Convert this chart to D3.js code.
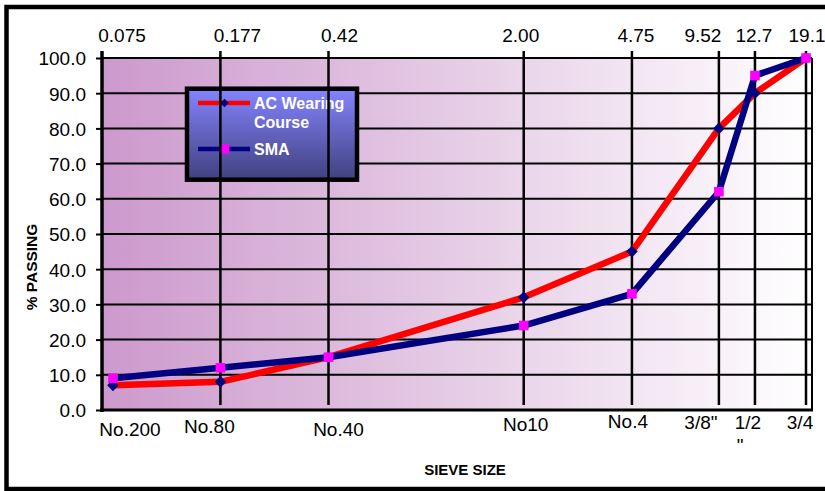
<!DOCTYPE html>
<html>
<head>
<meta charset="utf-8">
<script src="https://cdn.jsdelivr.net/npm/d3@7"></script>
<style>
  html, body { margin: 0; padding: 0; background: #fff; }
  svg { display: block; font-family: "Liberation Sans", Arial, sans-serif; }
</style>
</head>
<body>
<svg id="chart" width="825" height="491"></svg>
<script>
// Sieve openings (mm), their labels and the sieve designations
const sieveSizes = [0.075, 0.177, 0.42, 2.00, 4.75, 9.52, 12.7, 19.1];
const sizeLabels = ["0.075", "0.177", "0.42", "2.00", "4.75", "9.52", "12.7", "19.1"];
const sieveNames = ["No.200", "No.80", "No.40", "No10", "No.4", "3/8\"", "1/2\n\"", "3/4"];

// Percent passing for each gradation
const acWearing = [7, 8, 15, 32, 45, 80, 90, 100];
const sma = [9, 12, 15, 24, 33, 62, 95, 100];

const yTicks = d3.range(0, 101, 10);
const seriesNames = ["AC Wearing\nCourse", "SMA"];

// Hand-placed label offsets (px) relative to each sieve position
const topLabelShift = [9, 17, 11, -3, 4, -16, -1, 1];
const bottomLabelShift = [17, -11, 10, 2, -4, -18, -7, -6];
const bottomLabelDrop = [26, 23, 26, 21, 18, 19, 19, 19];

const svg = d3.select("#chart");
const W = 825, H = 491;
const plot = { left: 102, right: 812, top: 58, bottom: 410 };

const x = d3.scaleLog().domain([0.075, 19.1]).range([113, 806]);
const y = d3.scaleLinear().domain([0, 100]).range([plot.bottom, plot.top]);

const defs = svg.append("defs");
const bg = defs.append("linearGradient").attr("id", "plotBg")
  .attr("x1", "0%").attr("x2", "100%").attr("y1", "0%").attr("y2", "0%");
bg.append("stop").attr("offset", "0%").attr("stop-color", "#CC99CC");
bg.append("stop").attr("offset", "100%").attr("stop-color", "#FFFFFF");
const lg = defs.append("linearGradient").attr("id", "legendBg")
  .attr("x1", "0%").attr("x2", "0%").attr("y1", "0%").attr("y2", "100%");
lg.append("stop").attr("offset", "0%").attr("stop-color", "#8484FF");
lg.append("stop").attr("offset", "100%").attr("stop-color", "#41417F");

// Outer frame
svg.append("rect").attr("x", 6.5).attr("y", 7).attr("width", 850).attr("height", 482)
  .attr("fill", "#fff").attr("stroke", "#000").attr("stroke-width", 4.5);

// Plot area
svg.append("rect").attr("x", plot.left).attr("y", plot.top)
  .attr("width", plot.right - plot.left).attr("height", plot.bottom - plot.top)
  .attr("fill", "url(#plotBg)");

// Horizontal gridlines
svg.append("g").selectAll("line").data(yTicks.filter(d => d > 0)).join("line")
  .attr("x1", plot.left).attr("x2", plot.right)
  .attr("y1", d => y(d)).attr("y2", d => y(d))
  .attr("stroke", "#000").attr("stroke-width", 2);

// Right border and x axis line
svg.append("line").attr("x1", plot.right).attr("x2", plot.right)
  .attr("y1", plot.top).attr("y2", plot.bottom + 1)
  .attr("stroke", "#000").attr("stroke-width", 2);
svg.append("line").attr("x1", plot.left - 2).attr("x2", plot.right + 1)
  .attr("y1", plot.bottom).attr("y2", plot.bottom)
  .attr("stroke", "#000").attr("stroke-width", 3);

// Y axis labels and ticks
const yAxis = d3.axisLeft(y).tickValues(yTicks).tickFormat(d3.format(".1f"))
  .tickSize(6).tickPadding(10);
const yg = svg.append("g").attr("transform", `translate(${plot.left},0)`).call(yAxis);
yg.select(".domain").remove();
yg.selectAll(".tick line").attr("stroke", "#000").attr("stroke-width", 2);
yg.selectAll(".tick text").attr("font-size", 19).attr("fill", "#000")
  .attr("font-family", "Liberation Sans, Arial, sans-serif").attr("dy", "0.36em");

svg.append("text").attr("transform", "translate(37,267) rotate(-90)")
  .attr("text-anchor", "middle").attr("font-size", 15.5).attr("font-weight", "bold")
  .attr("fill", "#000").text("% PASSING");

// Legend
const leg = svg.append("g");
leg.append("rect").attr("x", 187).attr("y", 88.7).attr("width", 170).attr("height", 91)
  .attr("fill", "url(#legendBg)").attr("stroke", "#000").attr("stroke-width", 4.5);
leg.append("line").attr("x1", 198).attr("x2", 250).attr("y1", 103).attr("y2", 103)
  .attr("stroke", "#FF0000").attr("stroke-width", 4.5);
leg.append("path").attr("d", "M0,-4.2L4.2,0L0,4.2L-4.2,0Z")
  .attr("transform", "translate(224.5,103)").attr("fill", "#000080");
leg.append("line").attr("x1", 198).attr("x2", 250).attr("y1", 149).attr("y2", 149)
  .attr("stroke", "#000080").attr("stroke-width", 4.5);
leg.append("rect").attr("x", 220).attr("y", 144.3).attr("width", 9.3).attr("height", 9.3)
  .attr("fill", "#FF00FF");
const legText = leg.append("g").attr("fill", "#fff").attr("font-weight", "bold").attr("font-size", 16);
seriesNames[0].split("\n").forEach((t, i) => {
  legText.append("text").attr("x", 254).attr("y", 109 + i * 18.5).text(t);
});
legText.append("text").attr("x", 254).attr("y", 155).text(seriesNames[1]);

// Vertical sieve lines
svg.append("g").selectAll("line").data(sieveSizes.slice(1)).join("line")
  .attr("x1", d => x(d)).attr("x2", d => x(d))
  .attr("y1", 51).attr("y2", 405)
  .attr("stroke", "#000").attr("stroke-width", 2.5);
svg.append("line").attr("x1", plot.left).attr("x2", plot.left)
  .attr("y1", 51).attr("y2", 412)
  .attr("stroke", "#000").attr("stroke-width", 3.5);

// Top labels: sieve openings
svg.append("g").selectAll("text").data(sieveSizes).join("text")
  .attr("x", (d, i) => x(d) + topLabelShift[i]).attr("y", 42)
  .attr("text-anchor", "middle").attr("font-size", 19).attr("fill", "#000")
  .text((d, i) => sizeLabels[i]);

// Bottom labels: sieve designations
const bl = svg.append("g").attr("font-size", 19).attr("fill", "#000");
sieveSizes.forEach((d, i) => {
  const lines = sieveNames[i].split("\n");
  const cx = x(d) + bottomLabelShift[i];
  const base = plot.bottom + bottomLabelDrop[i];
  const first = bl.append("text").attr("x", cx).attr("y", base)
    .attr("text-anchor", "middle").text(lines[0]);
  if (lines.length > 1) {
    const bb = first.node().getBBox();
    lines.slice(1).forEach((t, j) => {
      bl.append("text").attr("x", bb.x + 2).attr("y", base + 23 * (j + 1)).text(t);
    });
  }
});

svg.append("text").attr("x", 465).attr("y", 474.5).attr("text-anchor", "middle")
  .attr("font-size", 15).attr("font-weight", "bold").attr("fill", "#000").text("SIEVE SIZE");

// Series
const line = d3.line().x(d => x(d[0])).y(d => y(d[1])).curve(d3.curveLinear);
const acPts = sieveSizes.map((s, i) => [s, acWearing[i]]);
const smaPts = sieveSizes.map((s, i) => [s, sma[i]]);

svg.append("path").datum(acPts).attr("d", line).attr("fill", "none")
  .attr("stroke", "#FF0000").attr("stroke-width", 6.5).attr("stroke-linejoin", "round");
svg.append("g").selectAll("path").data(acPts).join("path")
  .attr("d", "M0,-5.8L5.8,0L0,5.8L-5.8,0Z")
  .attr("transform", d => `translate(${x(d[0])},${y(d[1])})`)
  .attr("fill", "#000080");
svg.append("path").datum(smaPts).attr("d", line).attr("fill", "none")
  .attr("stroke", "#000080").attr("stroke-width", 6.5).attr("stroke-linejoin", "round");
svg.append("g").selectAll("rect").data(smaPts).join("rect")
  .attr("x", d => x(d[0]) - 4.8).attr("y", d => y(d[1]) - 4.8)
  .attr("width", 9.6).attr("height", 9.6).attr("fill", "#FF00FF");
</script>
</body>
</html>
